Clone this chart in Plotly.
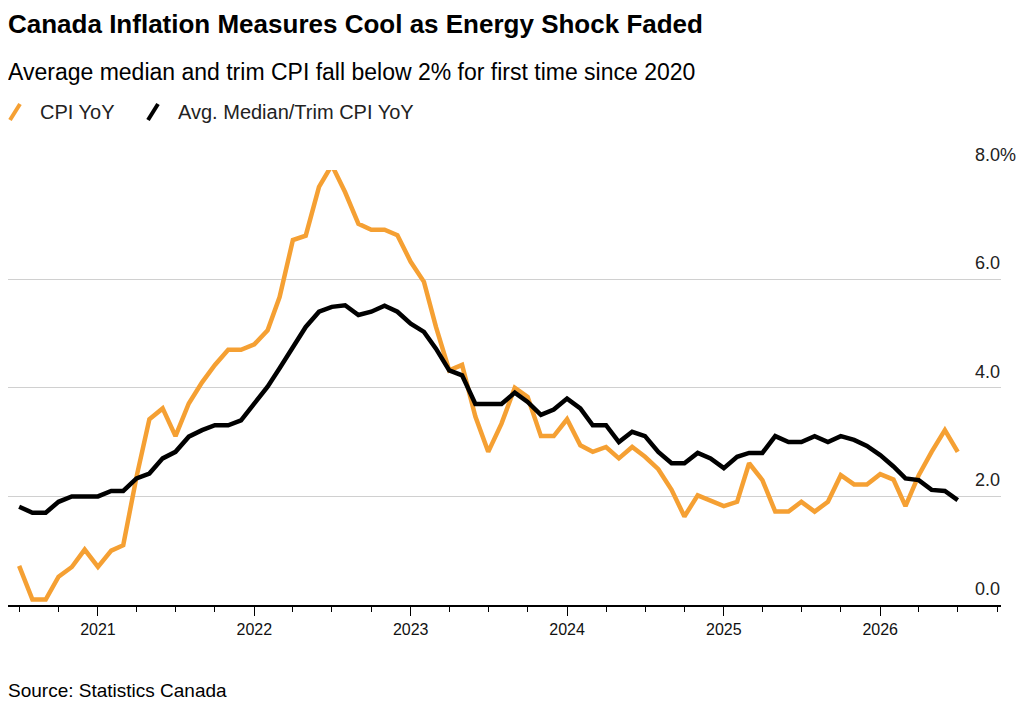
import pandas as pd
import plotly.graph_objects as go

# monthly, Jul 2020 .. Jul 2026
months = pd.date_range("2020-07-01", periods=73, freq="MS")

cpi_yoy = [
    0.72, 0.1, 0.1, 0.52, 0.7, 1.02, 0.7, 1.0, 1.1, 2.36, 3.42, 3.62, 3.11,
    3.71, 4.1, 4.42, 4.7, 4.7, 4.8, 5.06, 5.67, 6.72, 6.8, 7.7, 8.1,
    7.6, 7.02, 6.91, 6.91, 6.81, 6.32, 5.95, 5.12, 4.32, 4.42, 3.47, 2.82,
    3.34, 4.0, 3.83, 3.11, 3.11, 3.42, 2.94, 2.82, 2.91, 2.7, 2.91, 2.73,
    2.5, 2.12, 1.63, 2.02, 1.93, 1.82, 1.9, 2.61, 2.3, 1.72, 1.72, 1.9,
    1.72, 1.9, 2.39, 2.22, 2.22, 2.41, 2.31, 1.82, 2.39, 2.82, 3.22, 2.82,
]
core_yoy = [
    1.81, 1.7, 1.7, 1.9, 2.0, 2.0, 2.0, 2.1, 2.1, 2.33, 2.42, 2.7, 2.82,
    3.1, 3.22, 3.31, 3.31, 3.4, 3.71, 4.02, 4.36, 4.75, 5.12, 5.4, 5.49,
    5.52, 5.34, 5.4, 5.51, 5.4, 5.18, 5.03, 4.72, 4.32, 4.23, 3.7, 3.7,
    3.7, 3.91, 3.74, 3.5, 3.6, 3.8, 3.62, 3.31, 3.31, 3.0, 3.19, 3.11,
    2.82, 2.61, 2.61, 2.8, 2.7, 2.52, 2.73, 2.8, 2.8, 3.11, 3.0, 3.0,
    3.11, 3.0, 3.11, 3.04, 2.93, 2.76, 2.55, 2.33, 2.3, 2.12, 2.1, 1.93,
]
y_ticks = [0, 2, 4, 6, 8]
y_labels = ["0.0", "2.0", "4.0", "6.0", "8.0%"]

ORANGE = "#F5A033"
FONT = "Liberation Sans, Arial, sans-serif"

# page shows the figure offset by the body margin; work in figure pixels
OX, OY = 10, 8
W, H = 1014, 711
L, R = 10 - OX, W - (1003 - OX)
T, B = 170 - OY, H - (605 - OY)
PW, PH = W - L - R, H - T - B


def to_paper(xp, yp):
    # reference-image pixels -> plot-area paper fractions
    return (xp - OX - L) / PW, (H - (yp - OY) - B) / PH


fig = go.Figure()
fig.add_trace(go.Scatter(x=months, y=cpi_yoy, mode="lines", name="CPI YoY",
                         line=dict(color=ORANGE, width=4.5), cliponaxis=False))
fig.add_trace(go.Scatter(x=months, y=core_yoy, mode="lines", name="Avg. Median/Trim CPI YoY",
                         line=dict(color="black", width=4.5), cliponaxis=False))

fig.update_layout(
    width=W, height=H,
    margin=dict(l=L, r=R, t=T, b=B, pad=0),
    paper_bgcolor="white", plot_bgcolor="white",
    showlegend=False,
    font=dict(family=FONT, color="#111", size=16),
    xaxis=dict(
        range=["2020-06-05", "2026-10-10"],
        showgrid=False, zeroline=False,
        showline=True, linecolor="black", linewidth=1.5,
        ticks="outside", ticklen=9, tickcolor="black",
        tickvals=pd.date_range("2021-01-01", periods=6, freq="YS"),
        tickformat="%Y", tickfont=dict(size=16),
        minor=dict(ticks="outside", ticklen=5, tickcolor="black",
                   dtick="M3", tick0="2020-07-01", showgrid=False),
    ),
    yaxis=dict(
        range=[0, 8.01], showticklabels=False, tickvals=y_ticks,
        gridcolor="#d0d0d0", gridwidth=1.2, zeroline=False,
    ),
)

ax_x = (975 - 10) / (1003 - 10)
for v, lab in zip(y_ticks, y_labels):
    fig.add_annotation(x=ax_x, xref="x domain", y=v, yref="y", text=lab,
                       showarrow=False, xanchor="left", yanchor="bottom",
                       yshift=4, font=dict(size=18, color="#222"))

texts = [
    (8, 24, "<b>Canada Inflation Measures Cool as Energy Shock Faded</b>", 26),
    (8, 72, "Average median and trim CPI fall below 2% for first time since 2020", 23),
    (8, 690, "Source: Statistics Canada", 19),
]
for xp, yp, t, s in texts:
    px, py = to_paper(xp, yp)
    fig.add_annotation(xref="paper", yref="paper", x=px, y=py,
                       text=t, showarrow=False, xanchor="left", yanchor="middle",
                       font=dict(size=s, color="black"))

# legend made of slanted strokes + labels
legend_items = [(12, "CPI YoY", ORANGE), (150, "Avg. Median/Trim CPI YoY", "black")]
for lx, lab, col in legend_items:
    x0, y0 = to_paper(lx, 120)
    x1, y1 = to_paper(lx + 10, 104)
    fig.add_shape(type="line", xref="paper", yref="paper",
                  x0=x0, y0=y0, x1=x1, y1=y1, line=dict(color=col, width=4))
    tx, ty = to_paper(lx + 28, 112)
    fig.add_annotation(xref="paper", yref="paper", x=tx, y=ty,
                       text=lab, showarrow=False, xanchor="left", yanchor="middle",
                       font=dict(size=20, color="#222"))

fig.write_html("out.html")
